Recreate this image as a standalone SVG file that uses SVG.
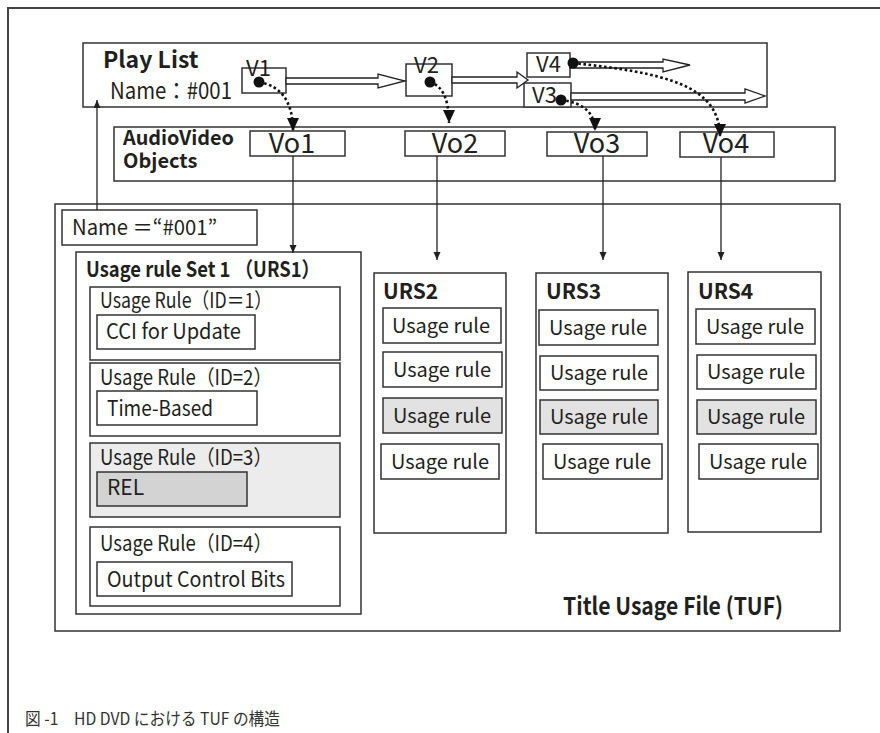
<svg xmlns="http://www.w3.org/2000/svg" width="880" height="733" viewBox="0 0 880 733">
<style>
  text { font-family: "Noto Sans CJK JP", "Noto Sans", "Liberation Sans", sans-serif; fill: #231f20; }
  .b { font-weight: bold; }
  .box { fill: #fff; stroke: #333; stroke-width: 1.5; }
  .g1 { fill: #ececec; stroke: #333; stroke-width: 1.5; }
  .g2 { fill: #d3d3d3; stroke: #333; stroke-width: 1.5; }
  .gr { fill: #e2e2e2; stroke: #333; stroke-width: 1.5; }
  .hollow { fill: #fff; stroke: #222; stroke-width: 1.3; stroke-linejoin: miter; }
  .dot { stroke: #111; stroke-width: 2.6; stroke-dasharray: 2.6 2.6; fill: none; }
  .solid { stroke: #222; stroke-width: 1.3; fill: none; }
  .vo { font-size: 27px; text-anchor: middle; }
  .v { font-size: 22px; }
  .ur { font-size: 21px; }
  .ursr { font-size: 20px; text-anchor: middle; }
</style>
<defs>
  <marker id="big" markerUnits="userSpaceOnUse" markerWidth="14" markerHeight="14" refX="13" refY="6" orient="auto">
    <path d="M0,0 L13,6 L0,12 Z" fill="#111"/>
  </marker>
  <marker id="small" markerUnits="userSpaceOnUse" markerWidth="9" markerHeight="8" refX="8" refY="3.5" orient="auto">
    <path d="M0,0 L8,3.5 L0,7 Z" fill="#222"/>
  </marker>
</defs>

<g id="frame">
  <path d="M8,733 V8 H880" fill="none" stroke="#444" stroke-width="2"/>
</g>

<g id="playlist">
  <rect class="box" x="83" y="43" width="684" height="64"/>
  <text class="b" x="103" y="68" font-size="23">Play List</text>
  <text x="110" y="99" font-size="23" textLength="122" lengthAdjust="spacingAndGlyphs">Name：#001</text>
</g>

<g id="V1">
  <rect class="box" x="242" y="68" width="44" height="25"/>
  <text class="v" x="246" y="76">V1</text>
</g>
<g id="V2">
  <rect class="box" x="406" y="64" width="46" height="32"/>
  <text class="v" x="414" y="73">V2</text>
</g>
<g id="V4">
  <rect class="box" x="527" y="53" width="43" height="24"/>
  <text class="v" x="536" y="72">V4</text>
</g>
<g id="V3">
  <rect class="box" x="524" y="83" width="47" height="24"/>
  <text class="v" x="532" y="103">V3</text>
</g>

<g id="avobjects">
  <rect class="box" x="114" y="127" width="721" height="54"/>
  <text class="b" x="123" y="145" font-size="20" textLength="111" lengthAdjust="spacingAndGlyphs">AudioVideo</text>
  <text class="b" x="123" y="168" font-size="20">Objects</text>
</g>
<g id="Vo1">
  <rect class="box" x="250" y="131" width="95" height="25"/>
  <text class="vo" x="292" y="153">Vo1</text>
</g>
<g id="Vo2">
  <rect class="box" x="405" y="131" width="100" height="25"/>
  <text class="vo" x="455" y="153">Vo2</text>
</g>
<g id="Vo3">
  <rect class="box" x="547" y="132" width="100" height="24"/>
  <text class="vo" x="597" y="153">Vo3</text>
</g>
<g id="Vo4">
  <rect class="box" x="680" y="132" width="94" height="25"/>
  <text class="vo" x="726" y="153">Vo4</text>
</g>

<g id="tuf">
  <rect class="box" x="55" y="204" width="785" height="427"/>
  <text class="b" x="563" y="615" font-size="24" textLength="220" lengthAdjust="spacingAndGlyphs">Title Usage File (TUF)</text>
</g>

<g id="name">
  <rect class="box" x="62" y="210" width="195" height="35"/>
  <text x="72" y="235" font-size="21" textLength="145" lengthAdjust="spacingAndGlyphs">Name ＝“#001”</text>
</g>

<g id="URS1">
  <rect class="box" x="76" y="252" width="285" height="362"/>
  <text class="b" x="86" y="277" font-size="21" textLength="234" lengthAdjust="spacingAndGlyphs">Usage rule Set 1 （URS1）</text>
  <g id="rule1">
    <rect class="box" x="90" y="287" width="250" height="73"/>
    <text class="ur" x="100" y="308" textLength="172" lengthAdjust="spacingAndGlyphs">Usage Rule（ID＝1）</text>
    <rect class="box" x="97" y="315" width="158" height="34"/>
    <text class="ur" x="106" y="339" textLength="135" lengthAdjust="spacingAndGlyphs">CCI for Update</text>
  </g>
  <g id="rule2">
    <rect class="box" x="90" y="363" width="250" height="73"/>
    <text class="ur" x="100" y="385" textLength="172" lengthAdjust="spacingAndGlyphs">Usage Rule（ID=2）</text>
    <rect class="box" x="97" y="391" width="160" height="34"/>
    <text class="ur" x="107" y="416" textLength="106" lengthAdjust="spacingAndGlyphs">Time-Based</text>
  </g>
  <g id="rule3">
    <rect class="g1" x="90" y="443" width="250" height="74"/>
    <text class="ur" x="100" y="465" textLength="172" lengthAdjust="spacingAndGlyphs">Usage Rule（ID=3）</text>
    <rect class="g2" x="97" y="472" width="150" height="34"/>
    <text class="ur" x="107" y="495">REL</text>
  </g>
  <g id="rule4">
    <rect class="box" x="90" y="527" width="250" height="79"/>
    <text class="ur" x="100" y="551" textLength="172" lengthAdjust="spacingAndGlyphs">Usage Rule（ID=4）</text>
    <rect class="box" x="97" y="562" width="195" height="34"/>
    <text class="ur" x="107" y="587" textLength="178" lengthAdjust="spacingAndGlyphs">Output Control Bits</text>
  </g>
</g>

<g id="URS2">
  <rect class="box" x="374" y="273" width="132" height="260"/>
  <text class="b" x="383" y="299" font-size="21">URS2</text>
  <rect class="box" x="383" y="308" width="118" height="35"/>
  <text class="ursr" x="441" y="333">Usage rule</text>
  <rect class="box" x="383" y="352" width="119" height="35"/>
  <text class="ursr" x="442" y="377">Usage rule</text>
  <rect class="gr" x="383" y="398" width="119" height="35"/>
  <text class="ursr" x="442" y="423">Usage rule</text>
  <rect class="box" x="381" y="444" width="118" height="35"/>
  <text class="ursr" x="440" y="469">Usage rule</text>
</g>

<g id="URS3">
  <rect class="box" x="536" y="273" width="132" height="260"/>
  <text class="b" x="546" y="299" font-size="21">URS3</text>
  <rect class="box" x="539" y="310" width="119" height="35"/>
  <text class="ursr" x="598" y="335">Usage rule</text>
  <rect class="box" x="540" y="356" width="118" height="34"/>
  <text class="ursr" x="599" y="380">Usage rule</text>
  <rect class="gr" x="540" y="400" width="118" height="34"/>
  <text class="ursr" x="599" y="424">Usage rule</text>
  <rect class="box" x="543" y="444" width="119" height="35"/>
  <text class="ursr" x="602" y="469">Usage rule</text>
</g>

<g id="URS4">
  <rect class="box" x="688" y="272" width="133" height="260"/>
  <text class="b" x="698" y="299" font-size="21">URS4</text>
  <rect class="box" x="696" y="309" width="119" height="35"/>
  <text class="ursr" x="755" y="334">Usage rule</text>
  <rect class="box" x="697" y="355" width="119" height="34"/>
  <text class="ursr" x="756" y="379">Usage rule</text>
  <rect class="gr" x="697" y="400" width="119" height="34"/>
  <text class="ursr" x="756" y="424">Usage rule</text>
  <rect class="box" x="699" y="444" width="119" height="35"/>
  <text class="ursr" x="758" y="469">Usage rule</text>
</g>

<g id="connectors">
  <polygon class="hollow" points="286,78 378,78 378,74 405,81 378,88 378,84 286,84"/>
  <polygon class="hollow" points="452,77 517,77 517,72 528,80 517,88 517,83 452,83"/>
  <polygon class="hollow" points="570,62 663,62 663,59 690,65 663,72 663,68 570,68"/>
  <polygon class="hollow" points="571,93 745,93 745,89 765,96 745,103 745,100 571,100"/>

  <path class="dot" d="M259,82 Q293,88 293,131" marker-end="url(#big)"/>
  <path class="dot" d="M430,82 Q449,88 449,123" marker-end="url(#big)"/>
  <path class="dot" d="M561,100 Q595,104 595,131" marker-end="url(#big)"/>
  <path class="dot" d="M573,63 C665,73 720,85 720,137" marker-end="url(#big)"/>
  <circle cx="259" cy="82" r="5.5" fill="#111"/>
  <circle cx="430" cy="82" r="5.5" fill="#111"/>
  <circle cx="561" cy="100" r="5.5" fill="#111"/>
  <circle cx="573" cy="63" r="5.5" fill="#111"/>

  <path class="solid" d="M293,156 V253" marker-end="url(#small)"/>
  <path class="solid" d="M437,156 V260" marker-end="url(#small)"/>
  <path class="solid" d="M603,156 V260" marker-end="url(#small)"/>
  <path class="solid" d="M721,157 V260" marker-end="url(#small)"/>
  <path class="solid" d="M97,210 V100" marker-end="url(#small)"/>
</g>

<g id="caption">
  <text x="25" y="725" font-size="17" style="fill:#333" textLength="255" lengthAdjust="spacingAndGlyphs">図 -1　HD DVD における TUF の構造</text>
</g>
</svg>
